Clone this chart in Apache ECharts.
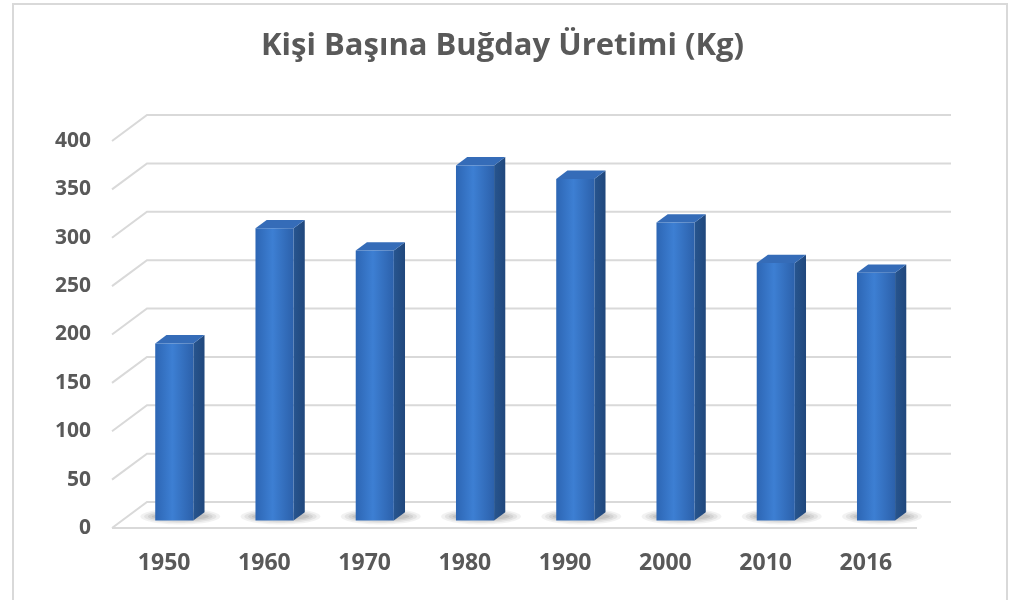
<!DOCTYPE html>
<html>
<head>
<meta charset="utf-8">
<script src="https://cdn.jsdelivr.net/npm/echarts@6/dist/echarts.min.js"></script>
<style>html,body{margin:0;padding:0;background:#fff;}#c{width:1025px;height:600px;}</style>
</head>
<body>
<div id="c"></div>
<script>
const categories = ['1950', '1960', '1970', '1980', '1990', '2000', '2010', '2016'];
const values = [183, 302, 279, 367, 353, 308, 266, 256];
const yTicks = [0, 50, 100, 150, 200, 250, 300, 350, 400];
const titleText = 'Kişi Başına Buğday Üretimi (Kg)';

const FONT = '"Open Sans", "Noto Sans", sans-serif';
const TXT = '#595959';
const DEPTH = [35, -26];      // full floor depth offset
const BAR_T = 0.29;           // bar front face depth fraction
const BAR_D = 0.32;           // bar depth fraction

const chart = echarts.init(document.getElementById('c'), null, {renderer: 'canvas'});

function wallItem(params, api) {
  const cs = params.coordSys;
  const v = api.value(1);
  const p = api.coord([0, v]);
  const y = p[1];
  const fx = cs.x - 2;
  const bx = fx + DEPTH[0], by = y + DEPTH[1];
  const right = cs.x + cs.width + DEPTH[0];
  const children = [{
    type: 'polyline',
    shape: {points: [[fx, y], [bx, by], [right, by]]},
    style: {stroke: '#d9d9d9', lineWidth: 2, fill: null}
  }];
  if (v === 0) {
    children.push({
      type: 'line',
      shape: {x1: fx, y1: y, x2: cs.x + cs.width + 1, y2: y},
      style: {stroke: '#d9d9d9', lineWidth: 2}
    });
  }
  return {type: 'group', children: children};
}

function barItem(params, api) {
  const i = api.value(0);
  const v = api.value(1);
  const base = api.coord([i, 0]);
  const top = api.coord([i, v]);
  const bw = api.size([1, 0])[0] * 0.38;
  const ox = DEPTH[0] * BAR_T, oy = DEPTH[1] * BAR_T;
  const dx = DEPTH[0] * BAR_D, dy = DEPTH[1] * BAR_D;
  const x0 = base[0] - bw / 2 + ox, x1 = x0 + bw;
  const yb = base[1] + oy, yt = top[1] + oy;
  const shadows = [];
  const layers = [[1.05, 8, 0.05], [0.95, 6.5, 0.06], [0.85, 5, 0.07], [0.75, 3.5, 0.08]];
  layers.forEach(function (l) {
    shadows.push({
      type: 'ellipse',
      shape: {cx: (x0 + x1) / 2 + 6, cy: yb - 4, rx: bw * l[0], ry: l[1]},
      style: {fill: 'rgba(0,0,0,' + l[2] + ')'}
    });
  });
  return {
    type: 'group',
    children: shadows.concat([
      {
        type: 'polygon',
        shape: {points: [[x1, yt], [x1 + dx, yt + dy], [x1 + dx, yb + dy], [x1, yb]]},
        style: {
          fill: {
            type: 'linear', x: 0, y: 0, x2: 1, y2: 0,
            colorStops: [{offset: 0, color: '#27558f'}, {offset: 1, color: '#20477c'}]
          }
        }
      },
      {
        type: 'polygon',
        shape: {points: [[x0, yt], [x0 + dx, yt + dy], [x1 + dx, yt + dy], [x1, yt]]},
        style: {fill: '#356cb8'}
      },
      {
        type: 'rect',
        shape: {x: x0, y: yt, width: bw, height: yb - yt},
        style: {
          fill: {
            type: 'linear', x: 0, y: 0, x2: 1, y2: 0,
            colorStops: [
              {offset: 0, color: '#2d66b4'},
              {offset: 0.45, color: '#3d7fd3'},
              {offset: 1, color: '#2c61ab'}
            ]
          }
        }
      }
    ])
  };
}

chart.setOption({
  animation: false,
  backgroundColor: '#ffffff',
  title: {
    text: titleText,
    left: 256,
    top: 26,
    textStyle: {fontFamily: FONT, fontWeight: 'bold', fontSize: 31, color: TXT}
  },
  graphic: [{
    type: 'rect',
    shape: {x: 13, y: 4, width: 994, height: 640},
    style: {fill: null, stroke: '#d9d9d9', lineWidth: 2},
    silent: true
  }],
  grid: {left: 114, right: 109, top: 141, bottom: 72},
  xAxis: {
    type: 'category',
    data: categories,
    axisLine: {show: false},
    axisTick: {show: false},
    splitLine: {show: false},
    axisLabel: {fontFamily: FONT, fontWeight: 'bold', fontSize: 23, color: TXT, margin: 24}
  },
  yAxis: {
    type: 'value',
    min: 0, max: 400, interval: 50,
    axisLine: {show: false},
    axisTick: {show: false},
    splitLine: {show: false},
    axisLabel: {fontFamily: FONT, fontWeight: 'bold', fontSize: 21, color: TXT, margin: 23}
  },
  series: [
    {
      type: 'custom',
      renderItem: wallItem,
      data: yTicks.map(v => [0, v]),
      silent: true,
      z: 1
    },
    {
      type: 'custom',
      renderItem: barItem,
      data: values.map((v, i) => [i, v]),
      z: 2
    }
  ]
});
</script>
</body>
</html>
